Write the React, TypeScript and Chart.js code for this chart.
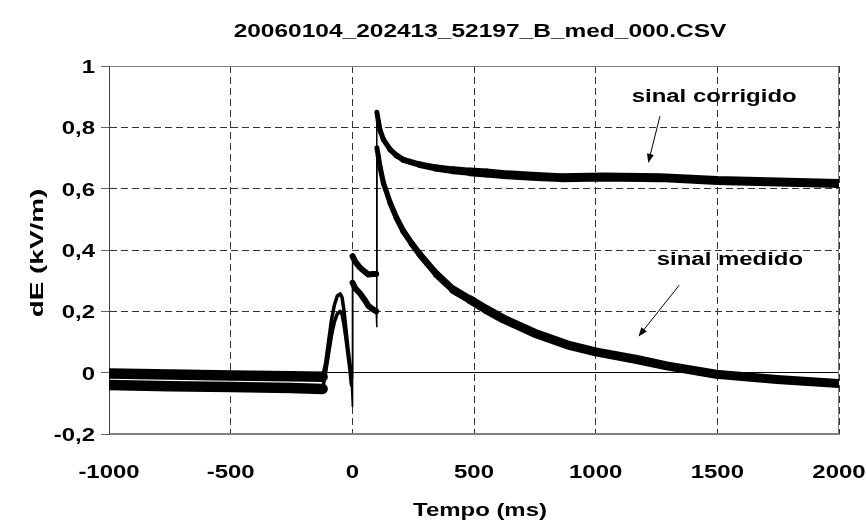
import React, { useEffect, useRef } from 'react';
import { Chart, registerables } from 'chart.js';

Chart.register(...registerables);

// ---------- data ----------
const TITLE = '20060104_202413_52197_B_med_000.CSV';
const X_TITLE = 'Tempo (ms)';
const Y_TITLE = 'dE (kV/m)';
const X_MIN = -1000;
const X_MAX = 2000;
const X_STEP = 500;
const Y_MIN = -0.2;
const Y_MAX = 1;
const Y_STEP = 0.2;

// sinal medido (measured signal)
const medidoT = [-1000, -750, -500, -250, -122, -110, -98, -86, -74, -62, -50, -42, -34, -26, -18, -10, -4, 0, 1, 12, 32, 50, 66, 82, 98, 100, 101, 107, 114, 128, 156, 182, 210, 245, 278, 347, 415, 484, 552, 621, 758, 895, 1000, 1169, 1292, 1495, 1745, 2000];
const medidoV = [-0.040, -0.044, -0.047, -0.050, -0.053, 0.0, 0.06, 0.12, 0.165, 0.192, 0.200, 0.19, 0.155, 0.11, 0.06, 0.01, -0.04, -0.11, 0.293, 0.275, 0.258, 0.238, 0.218, 0.208, 0.200, 0.15, 0.733, 0.705, 0.67, 0.618, 0.553, 0.504, 0.461, 0.42, 0.385, 0.32, 0.27, 0.238, 0.205, 0.175, 0.126, 0.088, 0.068, 0.043, 0.022, -0.005, -0.022, -0.035];

// sinal corrigido (corrected signal)
const corrigidoT = [-1000, -750, -500, -250, -122, -110, -98, -86, -74, -62, -50, -42, -34, -26, -18, -10, -4, 0, 1, 12, 32, 50, 66, 82, 98, 100, 101, 107, 114, 128, 156, 182, 210, 278, 347, 415, 484, 552, 636, 757, 857, 1031, 1265, 1500, 1750, 2000];
const corrigidoV = [-0.003, -0.006, -0.009, -0.012, -0.013, 0.03, 0.10, 0.17, 0.22, 0.25, 0.257, 0.245, 0.20, 0.14, 0.08, 0.03, 0.0, -0.02, 0.38, 0.362, 0.342, 0.33, 0.32, 0.322, 0.322, 0.32, 0.849, 0.82, 0.79, 0.76, 0.727, 0.708, 0.694, 0.678, 0.667, 0.66, 0.655, 0.651, 0.645, 0.64, 0.636, 0.638, 0.636, 0.627, 0.622, 0.617];

// annotations (in data units: ms, kV/m)
const ANN_CORRIGIDO_TEXT = 'sinal corrigido';
const ANN_CORRIGIDO_AT = [1148, 0.884];
const ANN_CORRIGIDO_ARROW = [1264, 0.836, 1216, 0.684];
const ANN_MEDIDO_TEXT = 'sinal medido';
const ANN_MEDIDO_AT = [1251, 0.352];
const ANN_MEDIDO_ARROW = [1343, 0.285, 1176, 0.118];

// ---------- styling helpers ----------
const FONT = 'bold 18px "Liberation Sans", Arial, sans-serif';
const SX = 1.33;

const fmtY = (v: number) => {
  const r = Math.round(v * 10) / 10;
  if (Math.abs(r - Math.round(r)) < 1e-9) return String(Math.round(r));
  return r.toFixed(1).replace('.', ',');
};

const segWidth = (xs: number[]) => (c: any) => {
  const dx = Math.abs(c.p1.x - c.p0.x);
  if (dx < 1.2) return 1.5;
  const t = xs[c.p0DataIndex];
  if (t < -122) return 10.5;
  if (t < 0) return 3.5;
  if (t < 100) return 6;
  const k = Math.min(1, Math.max(0, (t - 100) / 400));
  return 5 + 4 * k;
};

const framePlugin = {
  id: 'frame',
  beforeDatasetsDraw(chart: any) {
    const { ctx, chartArea: a } = chart;
    ctx.save();
    ctx.strokeStyle = '#808080';
    ctx.lineWidth = 1;
    ctx.setLineDash([]);
    const l = Math.round(a.left) + 0.5;
    const t = Math.round(a.top) + 0.5;
    const r = Math.round(a.right) - 0.5;
    const b = Math.round(a.bottom) - 0.5;
    ctx.beginPath();
    ctx.moveTo(l, t);
    ctx.lineTo(r, t);
    ctx.lineTo(r, b);
    ctx.lineTo(l, b);
    ctx.stroke();
    ctx.strokeStyle = '#444';
    ctx.beginPath();
    ctx.moveTo(l, t);
    ctx.lineTo(l, b);
    ctx.stroke();
    ctx.restore();
  },
};

const textPlugin = {
  id: 'texts',
  afterDraw(chart: any) {
    const { ctx, chartArea: a, scales } = chart;
    const x = scales.x;
    const y = scales.y;
    ctx.save();
    ctx.fillStyle = '#000';
    ctx.font = FONT;
    ctx.textBaseline = 'alphabetic';
    const put = (s: string, px: number, py: number, align: CanvasTextAlign, rot = 0, sx = SX) => {
      ctx.save();
      ctx.translate(px, py);
      if (rot) ctx.rotate(rot);
      ctx.scale(sx, 1);
      ctx.textAlign = align;
      ctx.fillText(s, 0, 0);
      ctx.restore();
    };
    const cx = (a.left + a.right) / 2 + 6;
    put(TITLE, cx, 36.5, 'center', 0, 1.36);
    y.ticks.forEach((t: any) => put(fmtY(t.value), a.left - 14, y.getPixelForValue(t.value) + 7, 'right'));
    x.ticks.forEach((t: any) => put(String(t.value), x.getPixelForValue(t.value), a.bottom + 44, 'center'));
    put(X_TITLE, cx, a.bottom + 82, 'center');
    put(Y_TITLE, 43, (a.top + a.bottom) / 2 + 3, 'center', -Math.PI / 2, 1.55);

    put(ANN_CORRIGIDO_TEXT, x.getPixelForValue(ANN_CORRIGIDO_AT[0]), y.getPixelForValue(ANN_CORRIGIDO_AT[1]), 'left');
    put(ANN_MEDIDO_TEXT, x.getPixelForValue(ANN_MEDIDO_AT[0]), y.getPixelForValue(ANN_MEDIDO_AT[1]), 'left');

    const arrow = (arr: number[]) => {
      const x0 = x.getPixelForValue(arr[0]);
      const y0 = y.getPixelForValue(arr[1]);
      const x1 = x.getPixelForValue(arr[2]);
      const y1 = y.getPixelForValue(arr[3]);
      const ang = Math.atan2(y1 - y0, x1 - x0);
      const L = 9;
      const W = 3.5;
      ctx.strokeStyle = '#000';
      ctx.lineWidth = 1;
      ctx.beginPath();
      ctx.moveTo(x0, y0);
      ctx.lineTo(x1 - Math.cos(ang) * L * 0.6, y1 - Math.sin(ang) * L * 0.6);
      ctx.stroke();
      ctx.beginPath();
      ctx.moveTo(x1, y1);
      ctx.lineTo(x1 - Math.cos(ang) * L - Math.sin(ang) * W, y1 - Math.sin(ang) * L + Math.cos(ang) * W);
      ctx.lineTo(x1 - Math.cos(ang) * L + Math.sin(ang) * W, y1 - Math.sin(ang) * L - Math.cos(ang) * W);
      ctx.closePath();
      ctx.fill();
    };
    arrow(ANN_CORRIGIDO_ARROW);
    arrow(ANN_MEDIDO_ARROW);
    ctx.restore();
  },
};

export default function App() {
  const ref = useRef<HTMLCanvasElement | null>(null);

  useEffect(() => {
    if (!ref.current) return;
    const mk = (ts: number[], vs: number[]) => ts.map((t, i) => ({ x: t, y: vs[i] }));
    const chart = new Chart(ref.current, {
      type: 'line',
      data: {
        datasets: [
          {
            label: 'sinal medido',
            data: mk(medidoT, medidoV),
            borderColor: '#000',
            backgroundColor: '#000',
            borderWidth: 6,
            pointRadius: 0,
            tension: 0,
            borderCapStyle: 'round',
            borderJoinStyle: 'round',
            segment: { borderWidth: segWidth(medidoT) },
          },
          {
            label: 'sinal corrigido',
            data: mk(corrigidoT, corrigidoV),
            borderColor: '#000',
            backgroundColor: '#000',
            borderWidth: 6,
            pointRadius: 0,
            tension: 0,
            borderCapStyle: 'round',
            borderJoinStyle: 'round',
            segment: { borderWidth: segWidth(corrigidoT) },
          },
        ],
      },
      options: {
        responsive: false,
        animation: false,
        devicePixelRatio: 1,
        events: [],
        layout: { padding: { top: 66, right: 27, left: 0, bottom: 0 } },
        plugins: {
          legend: { display: false },
          tooltip: { enabled: false },
          title: { display: false },
        },
        scales: {
          x: {
            type: 'linear',
            min: X_MIN,
            max: X_MAX,
            ticks: { stepSize: X_STEP, display: false },
            grid: {
              color: '#333',
              lineWidth: 1,
              drawTicks: false,
            },
            border: {
              display: true,
              color: '#808080',
              dash: [7, 4],
            },
            afterFit: (s: any) => {
              s.height = 94;
            },
          },
          y: {
            type: 'linear',
            min: Y_MIN,
            max: Y_MAX,
            ticks: { stepSize: Y_STEP, display: false },
            grid: {
              color: (c: any) => (c.tick && Math.abs(c.tick.value) < 1e-9 ? '#000' : '#333'),
              lineWidth: 1,
              drawTicks: true,
              tickLength: 8,
              tickColor: '#666',
              tickWidth: 1,
              tickBorderDash: [],
            },
            border: {
              display: true,
              color: '#444',
              dash: (c: any) => (c.tick && Math.abs(c.tick.value) < 1e-9 ? [] : [7, 4]),
            },
            afterFit: (s: any) => {
              s.width = 109;
            },
          },
        },
      },
      plugins: [framePlugin, textPlugin],
    } as any);
    return () => chart.destroy();
  }, []);

  return (
    <div style={{ position: 'fixed', left: 0, top: 0, width: 866, height: 528, background: '#fff' }}>
      <canvas ref={ref} width={866} height={528} style={{ display: 'block', width: 866, height: 528 }} />
    </div>
  );
}
